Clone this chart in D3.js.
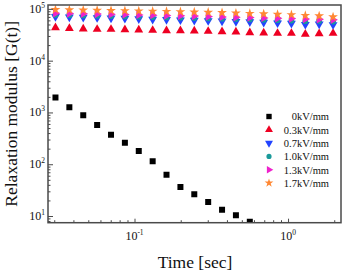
<!DOCTYPE html>
<html><head><meta charset="utf-8">
<script src="https://cdn.jsdelivr.net/npm/d3@7"></script>
<style>body{margin:0;background:#fff}svg{display:block}text{font-family:"Liberation Serif","Times New Roman",serif}</style>
</head><body>
<script>
const time = [0.03056,0.03764,0.04635,0.05709,0.07030,0.08657,0.1066,0.1313,0.1616,0.1991,0.2451,0.3019,0.3717,0.4577,0.5637,0.6941,0.8546,1.052,1.296,1.595,1.965];
const s0 = [1945,1259,881,572,372,260,180,114,62.8,36.3,26.2,18.6,13.2,10.3,7.76];
const s03 = [43400,42000,40900,40400,40400,39700,39200,38600,37900,37900,37500,37000,36300,35800,34800,34300,33800,33800,32500,33200,33800];
const s07 = [70800,69500,68500,67500,66500,65500,64000,63000,62000,61000,60000,59000,58000,57000,56000,55000,53500,52500,50000,51000,49500];
const s10 = [76400,75500,74500,73500,72500,71500,70500,69500,68500,67500,66500,65500,64500,63500,62500,61500,60500,59500,58000,58500,57000];
const s13 = [82400,81500,80500,79500,78500,77500,76500,75500,74500,73500,72500,71000,70000,69000,68000,67000,66000,65000,63500,63000,61500];
const s17 = [97000,96000,95000,94000,93000,92000,91000,90000,89000,88000,87000,86000,84500,83000,81500,80000,78500,77000,74500,73000,70000];
const seriesNames = ["0kV/mm","0.3kV/mm","0.7kV/mm","1.0kV/mm","1.3kV/mm","1.7kV/mm"];
const xTickExp = [-1, 0];
const yTickExp = [1, 2, 3, 4, 5];

const W = 345, H = 272;
const L = 48, R = 341, T = 5, B = 222.7;
const svg = d3.select("body").append("svg").attr("width", W).attr("height", H);

const x = d3.scaleLog().domain([Math.pow(10,-1.5635), Math.pow(10,0.345)]).range([L, R]);
const y = d3.scaleLog().domain([Math.pow(10,0.871), Math.pow(10,5.075)]).range([B, T]);

const series = [
  {name: seriesNames[0], vals: s0,  color: "#000000", sym: d3.symbolSquare, size: 36, rot: 0},
  {name: seriesNames[1], vals: s03, color: "#ee0022", sym: d3.symbolTriangle, size: 34, rot: 0},
  {name: seriesNames[2], vals: s07, color: "#2244ff", sym: d3.symbolTriangle, size: 34, rot: 180},
  {name: seriesNames[3], vals: s10, color: "#1a9a9a", sym: d3.symbolCircle, size: 26, rot: 0},
  {name: seriesNames[4], vals: s13, color: "#ee22cc", sym: d3.symbolTriangle, size: 30, rot: 90},
  {name: seriesNames[5], vals: s17, color: "#ff8833", sym: d3.symbolStar, size: 30, rot: 0}
];

svg.append("defs").append("clipPath").attr("id","clip")
  .append("rect").attr("x", L).attr("y", T).attr("width", R-L).attr("height", B-T);

const g = svg.append("g").attr("clip-path","url(#clip)");
series.forEach(s => {
  g.selectAll(null).data(s.vals.map((v,i)=>[time[i], v])).enter().append("path")
    .attr("d", d3.symbol().type(s.sym).size(s.size))
    .attr("transform", d => `translate(${x(d[0])},${y(d[1])}) rotate(${s.rot})`)
    .attr("fill", s.color);
});

// axes (ticks inward)
const axisColor = "#4a4a4a";
const xAxis = d3.axisBottom(x).tickSizeInner(-4).tickSizeOuter(0).tickFormat("")
  .tickValues(xTickExp.map(e=>Math.pow(10,e)));
const xMinor = [];
[-2,-1,0].forEach(e=>{for(let k=2;k<=9;k++){const v=k*Math.pow(10,e); if(v>=x.domain()[0]&&v<=x.domain()[1]) xMinor.push(v);}});
const yMinor = [];
[0,1,2,3,4].forEach(e=>{for(let k=2;k<=9;k++){const v=k*Math.pow(10,e); if(v>=y.domain()[0]&&v<=y.domain()[1]) yMinor.push(v);}});

const gx = svg.append("g").attr("transform",`translate(0,${B})`);
gx.call(xAxis);
gx.append("g").call(d3.axisBottom(x).tickValues(xMinor).tickSizeInner(-2.5).tickSizeOuter(0).tickFormat(""));
const gy = svg.append("g").attr("transform",`translate(${L},0)`);
gy.call(d3.axisLeft(y).tickValues(yTickExp.map(e=>Math.pow(10,e))).tickSizeInner(-5).tickSizeOuter(0).tickFormat(""));
gy.append("g").call(d3.axisLeft(y).tickValues(yMinor).tickSizeInner(-2.5).tickSizeOuter(0).tickFormat(""));
svg.selectAll(".domain").remove();
svg.selectAll(".tick line").attr("stroke", axisColor).attr("stroke-width", 1);

svg.append("rect").attr("x", L).attr("y", T).attr("width", R-L).attr("height", B-T)
  .attr("fill","none").attr("stroke", axisColor).attr("stroke-width", 1.5);

// tick labels
xTickExp.forEach(e => {
  const t = svg.append("text").attr("x", x(Math.pow(10,e))).attr("y", 240)
    .attr("text-anchor","middle").attr("font-size", 12).attr("fill","#111");
  t.append("tspan").text("10");
  t.append("tspan").attr("font-size", 7.5).attr("dy", -5).text(String(e));
});
yTickExp.forEach(e => {
  const t = svg.append("text").attr("x", 45).attr("y", y(Math.pow(10,e)) + 4)
    .attr("text-anchor","end").attr("font-size", 12).attr("fill","#111");
  t.append("tspan").text("10");
  t.append("tspan").attr("font-size", 7.5).attr("dy", -5).text(String(e));
});

// axis titles
svg.append("text").attr("x", 195).attr("y", 268).attr("text-anchor","middle")
  .attr("font-size", 17.5).attr("fill","#111").text("Time [sec]");
svg.append("text").attr("transform", `translate(17,${(T+B)/2}) rotate(-90)`)
  .attr("text-anchor","middle").attr("font-size", 17.5).attr("fill","#111")
  .text("Relaxation modulus [G(t)]");

// legend
series.forEach((s, i) => {
  const cy = 116.5 + i*13.3;
  svg.append("path").attr("d", d3.symbol().type(s.sym).size(s.size*0.8))
    .attr("transform", `translate(269,${cy}) rotate(${s.rot})`).attr("fill", s.color);
  svg.append("text").attr("x", 329).attr("y", cy + 3.8).attr("text-anchor","end")
    .attr("font-size", 10.5).attr("fill","#111").text(s.name);
});
</script>
</body></html>
